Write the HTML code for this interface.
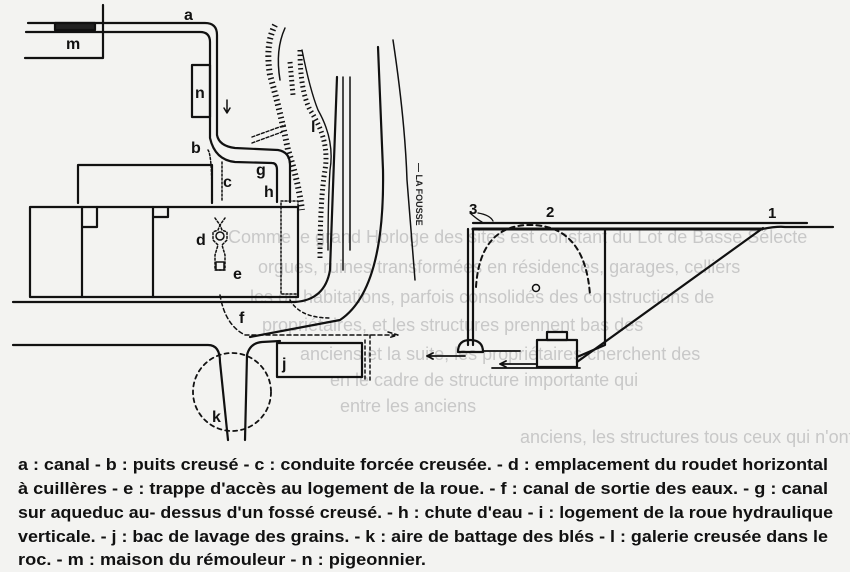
<!DOCTYPE html>
<html><head><meta charset="utf-8"><style>
html,body{margin:0;padding:0;background:#f2f2f0}
svg{display:block}
</style></head><body>
<svg width="850" height="572" viewBox="0 0 850 572" xmlns="http://www.w3.org/2000/svg">
<rect width="850" height="572" fill="#f3f3f1"/>
<g fill="#c8c8c8" font-family="Liberation Sans, sans-serif" font-size="18">
<text x="228" y="243">Comme le grand Horloge des sites est constant du Lot de Basse Sélecte</text>
<text x="258" y="273">orgues, ruines transformées en résidences, garages, celliers</text>
<text x="250" y="303">les ou habitations, parfois consolidés des constructions de</text>
<text x="262" y="331">propriétaires, et les structures prennent bas des</text>
<text x="300" y="360">anciens et la suite, les propriétaires cherchent des</text>
<text x="330" y="386">en le cadre de structure importante qui</text>
<text x="340" y="412">entre les anciens</text>
<text x="520" y="443">anciens, les structures tous ceux qui n'ont</text>
</g>
<g stroke="#111" stroke-width="2.2" fill="none" stroke-linecap="round" stroke-linejoin="round">
<path d="M25 58 L103 58 L103 5"/>
<rect x="55" y="23" width="40" height="7" fill="#222"/>
<path d="M28 23 L205 23 Q217 23 217 35 L217 135 Q219 146 235 148 L278 150 Q290 152 290 165 L290 202"/>
<path d="M26 32 L200 32 Q210 32 210 42 L210 138 Q215 160 235 162 L272 163 Q277 163 277 170 L277 202"/>
<rect x="192" y="65" width="18" height="52"/>
<path d="M227 100 L227 112 M224 108 L227 113 L230 108" stroke-width="1.5"/>
<path d="M78 203 L78 165 L212 165 L212 203"/>
<path d="M30 297 L30 207 L298 207 L298 297 L30 297"/>
<path d="M82 207 L82 297 M153 207 L153 297 M82 227 L97 227 L97 207 M153 217 L168 217 L168 207"/>
<rect x="281" y="201" width="17" height="93" stroke-width="1.5" stroke-dasharray="2 2"/>
<path d="M215 218 L220 225 L218 230 L213 232 L213 240 L218 245 L215 255 L215 270 L225 270 L225 255 L222 245 L227 240 L227 232 L222 230 L220 225 L225 218" stroke-width="1.5" stroke-dasharray="2 2"/>
<circle cx="220" cy="236" r="4" stroke-width="1.5"/>
<rect x="216" y="262" width="8" height="8" stroke-width="1.5"/>
<path d="M208 150 Q212 155 212 200 M222 162 L222 202" stroke-width="1.5" stroke-dasharray="2 2"/>
<path d="M13 302 L295 302 Q325 300 330 270 L337 77"/>
<path d="M343 77 L343 270 M350 77 L350 250" stroke-width="1.5"/>
<path d="M378 47 L383 170 Q385 290 340 320 L250 337"/>
<path d="M393 40 Q405 120 407 180 L415 280" stroke-width="1.5"/>
<path d="M13 345 L208 345 Q220 345 220 362 L228 440"/>
<path d="M245 440 L247 355 Q250 343 262 342 L280 341"/>
<circle cx="232" cy="392" r="39" stroke-width="1.8" stroke-dasharray="4 4"/>
<rect x="277" y="343" width="85" height="34"/>
<path d="M220 295 Q225 325 245 335 L395 335 M388 332 L398 335 L388 338" stroke-width="1.5" stroke-dasharray="4 3"/>
<path d="M370 335 L370 380 M365 340 L365 380" stroke-width="1.5" stroke-dasharray="3 3"/>
<path d="M290 300 Q300 318 330 318" stroke-width="1.5" stroke-dasharray="3 3"/>
<path d="M275 25 Q265 45 270 75 Q280 110 288 150 Q298 180 302 210" stroke-width="6" stroke-dasharray="1.5 3" stroke-linecap="butt"/>
<path d="M285 28 Q275 50 280 80" stroke-width="1.5"/>
<path d="M290 62 L293 95" stroke-width="5" stroke-dasharray="1.5 3" stroke-linecap="butt"/>
<path d="M300 50 Q300 90 310 110 Q330 140 325 170 Q320 200 320 260" stroke-width="5" stroke-dasharray="1.5 3" stroke-linecap="butt"/>
<path d="M302 50 Q310 90 318 110 Q335 140 330 170 Q328 200 328 250" stroke-width="1.4"/>
<path d="M252 137 L285 125 M252 143 L282 132" stroke-width="1.4" stroke-dasharray="3 2"/>
<path d="M473 223 L807 223"/>
<path d="M473 229 L762 229" stroke-width="3"/>
<path d="M762 229 Q778 226 785 227 L833 227"/>
<path d="M468 229 L468 345 M473 229 L473 345"/>
<path d="M458 352 Q458 340 470 340 Q483 340 483 352 Z"/>
<path d="M483 351 L520 351 M427 356 L465 356 M427 356 L433 353 M427 356 L433 359" stroke-width="1.8"/>
<path d="M605 229 L605 345 L577 357"/>
<path d="M763 228 L577 362"/>
<rect x="537" y="340" width="40" height="27"/>
<rect x="547" y="332" width="20" height="8"/>
<path d="M500 364 L537 364 M492 368 L580 368 M500 364 L506 361 M500 364 L506 367" stroke-width="1.8"/>
<path d="M476 287 Q480 225 530 225 Q585 225 590 295" stroke-width="2" stroke-dasharray="5 4"/>
<circle cx="536" cy="288" r="3.5" stroke-width="1.5"/>
<path d="M470 213 Q478 220 482 222 M478 213 Q490 215 493 221" stroke-width="1.3"/>
</g>
<g font-family="Liberation Sans, sans-serif" font-weight="bold" font-size="16" fill="#111">
<text x="184" y="20">a</text><text x="66" y="49">m</text>
<text x="195" y="98">n</text><text x="191" y="153">b</text>
<text x="223" y="187">c</text><text x="256" y="175">g</text><text x="264" y="197">h</text>
<text x="196" y="245">d</text><text x="233" y="279">e</text><text x="239" y="323">f</text>
<text x="282" y="369">j</text><text x="212" y="422">k</text><text x="311" y="132">l</text>
<text x="469" y="214" font-size="15">3</text><text x="546" y="217" font-size="15">2</text><text x="768" y="218" font-size="15">1</text>
</g>
<text x="416" y="163" font-family="Liberation Sans, sans-serif" font-size="9" font-weight="bold" fill="#222" transform="rotate(90 416 163)">— LA FOUSSE</text>
<g font-family="Liberation Sans, sans-serif" font-weight="bold" font-size="17" fill="#111">
<text x="18" y="470" textLength="810" lengthAdjust="spacingAndGlyphs">a : canal - b : puits creusé - c : conduite forcée creusée. - d : emplacement du roudet horizontal</text>
<text x="18" y="494" textLength="810" lengthAdjust="spacingAndGlyphs">à cuillères - e : trappe d'accès au logement de la roue. - f :  canal de sortie des eaux. - g : canal</text>
<text x="18" y="518" textLength="815" lengthAdjust="spacingAndGlyphs">sur aqueduc au- dessus d'un fossé creusé. - h : chute d'eau - i : logement de la roue hydraulique</text>
<text x="18" y="542" textLength="810" lengthAdjust="spacingAndGlyphs">verticale. - j : bac de lavage des grains. - k : aire de battage des blés - l : galerie creusée dans le</text>
<text x="18" y="565" textLength="408" lengthAdjust="spacingAndGlyphs">roc. - m :  maison du rémouleur - n : pigeonnier.</text>
</g>
</svg>
</body></html>
